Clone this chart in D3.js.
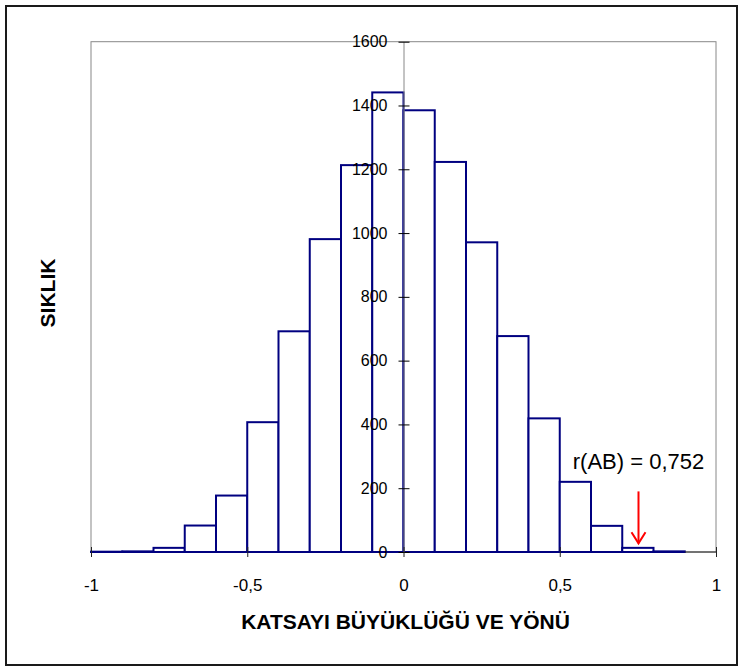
<!DOCTYPE html>
<html>
<head>
<meta charset="utf-8">
<script src="https://cdn.jsdelivr.net/npm/d3@7"></script>
<style>
  body { margin: 0; background: #fff; }
  text { font-family: Arial, "Liberation Sans", sans-serif; }
</style>
</head>
<body>
<div id="chart"></div>
<script>
// lower edge of each 0.1 wide class
var binStarts = [-1, -0.9, -0.8, -0.7, -0.6, -0.5, -0.4, -0.3, -0.2, -0.1,
                 0, 0.1, 0.2, 0.3, 0.4, 0.5, 0.6, 0.7, 0.8];
var counts = [1, 2, 13, 83, 177, 407, 692, 981, 1213, 1441,
              1385, 1223, 971, 677, 419, 220, 82, 13, 2];
var binWidth = 0.1;
var xTicks = [-1, -0.5, 0, 0.5, 1];
var yTicks = [0, 200, 400, 600, 800, 1000, 1200, 1400, 1600];
var rValue = 0.752;
var rLabel = "r(AB) = 0,752";
var xTitle = "KATSAYI BÜYÜKLÜĞÜ VE YÖNÜ";
var yTitle = "SIKLIK";

function create_histogram(wanted_element) {
    var width = 743,
        height = 669;

    var x = d3.scaleLinear().domain([-1, 1]).range([91, 716]);
    var y = d3.scaleLinear().domain([0, 1600]).range([552, 41.7]);

    var fmt = function (d) { return String(d).replace(".", ","); };

    var svg = d3.select(wanted_element).append("svg")
        .attr("width", width)
        .attr("height", height);

    // outer chart frame
    svg.append("rect")
        .attr("x", 6).attr("y", 6)
        .attr("width", 731).attr("height", 659)
        .attr("fill", "none")
        .attr("stroke", "#1a1a1a")
        .attr("stroke-width", 2);

    // plot area border
    svg.append("rect")
        .attr("x", x(-1)).attr("y", y(1600))
        .attr("width", x(1) - x(-1)).attr("height", y(0) - y(1600))
        .attr("fill", "none")
        .attr("stroke", "#888")
        .attr("stroke-width", 1);

    // bars
    svg.selectAll(".bar")
        .data(binStarts)
        .enter().append("rect")
        .attr("class", "bar")
        .attr("x", function (d) { return x(d); })
        .attr("width", function (d) { return x(d + binWidth) - x(d); })
        .attr("y", function (d, i) { return y(counts[i]); })
        .attr("height", function (d, i) { return y(0) - y(counts[i]); })
        .attr("fill", "#fff")
        .attr("stroke", "#000080")
        .attr("stroke-width", 2);

    // y axis sits on x = 0, drawn over the bars
    var yAxis = svg.append("g")
        .attr("transform", "translate(" + x(0) + ",0)")
        .call(d3.axisLeft(y).tickValues(yTicks).tickSize(5).tickSizeOuter(0)
            .tickPadding(11).tickFormat(fmt));
    yAxis.select(".domain").attr("stroke", "#888");
    yAxis.selectAll(".tick line").attr("x1", 6).attr("stroke", "#000");
    yAxis.selectAll(".tick text")
        .style("font-size", "16px")
        .attr("fill", "#000");

    // x axis on the baseline
    var xAxis = svg.append("g")
        .attr("transform", "translate(0," + y(0) + ")")
        .call(d3.axisBottom(x).tickValues(xTicks).tickSize(5).tickSizeOuter(0)
            .tickPadding(22).tickFormat(fmt));
    xAxis.select(".domain").attr("stroke", "#222")
        .attr("d", "M" + x(0.9) + ",0H" + x(1));
    xAxis.selectAll(".tick line").attr("y1", -5).attr("stroke", "#222");
    xAxis.selectAll(".tick text")
        .style("font-size", "17px")
        .attr("fill", "#000");

    // observed coefficient annotation
    svg.append("text")
        .attr("x", x(rValue))
        .attr("y", y(261))
        .attr("text-anchor", "middle")
        .style("font-size", "22px")
        .text(rLabel);

    var ax = x(rValue);
    svg.append("line")
        .attr("x1", ax).attr("x2", ax)
        .attr("y1", y(190)).attr("y2", y(27))
        .attr("stroke", "red").attr("stroke-width", 2);
    svg.append("path")
        .attr("d", "M" + (ax - 7) + "," + y(62) + "L" + ax + "," + y(27) + "L" + (ax + 7) + "," + y(62))
        .attr("fill", "none")
        .attr("stroke", "red").attr("stroke-width", 2);

    // axis titles
    svg.append("text")
        .attr("x", x(0) + 2)
        .attr("y", 629)
        .attr("text-anchor", "middle")
        .style("font-size", "21px")
        .style("font-weight", "bold")
        .text(xTitle);

    svg.append("text")
        .attr("transform", "translate(55," + 293 + ") rotate(-90)")
        .attr("text-anchor", "middle")
        .style("font-size", "21px")
        .style("font-weight", "bold")
        .text(yTitle);
}

create_histogram("#chart");
</script>
</body>
</html>
